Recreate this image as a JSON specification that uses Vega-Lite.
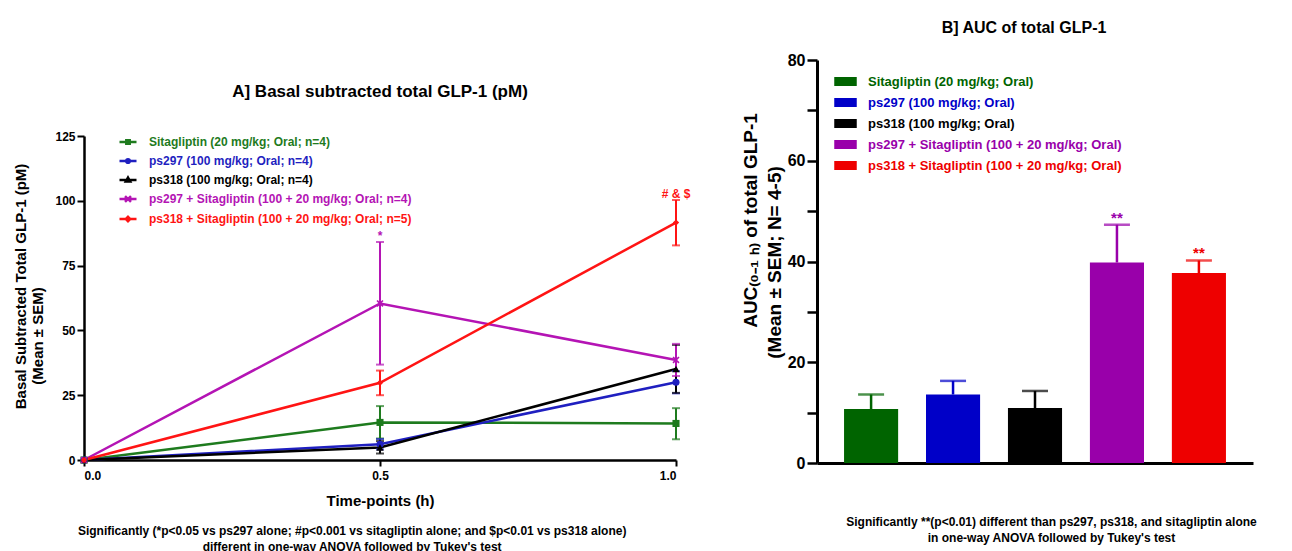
{
  "$schema": "https://vega.github.io/schema/vega-lite/v6.json",
  "background": "white",
  "padding": {"left": 13, "top": 20, "right": 0, "bottom": 0},
  "config": {
    "font": "Liberation Sans",
    "view": {"stroke": null},
    "axis": {"grid": false, "domainColor": "black", "domainWidth": 2.5, "tickColor": "black", "tickWidth": 2, "labelColor": "black", "labelFontWeight": "bold", "titleColor": "black", "titleFontWeight": "bold", "labelFont": "Liberation Sans", "titleFont": "Liberation Sans"},
    "title": {"font": "Liberation Sans", "fontWeight": "bold", "color": "black"},
    "legend": {"labelFont": "Liberation Sans", "labelLimit": 500}
  },
  "spacing": 50,
  "resolve": {"scale": {"x": "independent", "y": "independent", "color": "independent"}},
  "hconcat": [
    {
      "title": {"text": ["Significantly (*p<0.05 vs ps297 alone; #p<0.001 vs sitagliptin alone; and $p<0.01 vs ps318 alone)", "different in one-way ANOVA followed by Tukey's test"], "orient": "bottom", "fontSize": 12, "lineHeight": 16, "offset": 18, "anchor": "middle", "frame": "bounds"},
      "spacing": 6,
      "vconcat": [
        {
          "width": 592,
          "height": 64,
          "data": {"values": [{"heading": "A] Basal subtracted total GLP-1 (pM)"}]},
          "mark": {"type": "text", "fontSize": 17, "fontWeight": "bold", "color": "black", "align": "center", "baseline": "middle"},
          "encoding": {"text": {"field": "heading"}}
        },
        {
          "width": 592,
          "height": 324,
          "data": {"values": [
            {"time": 0, "group": "Sitagliptin (20 mg/kg; Oral; n=4)", "mean": 0, "lo": 0, "hi": 0},
            {"time": 0.5, "group": "Sitagliptin (20 mg/kg; Oral; n=4)", "mean": 14.5, "lo": 8.3, "hi": 20.8},
            {"time": 1, "group": "Sitagliptin (20 mg/kg; Oral; n=4)", "mean": 14.1, "lo": 8.0, "hi": 20.0},
            {"time": 0, "group": "ps297 (100 mg/kg; Oral; n=4)", "mean": 0, "lo": 0, "hi": 0},
            {"time": 0.5, "group": "ps297 (100 mg/kg; Oral; n=4)", "mean": 6.1, "lo": 4.1, "hi": 8.1},
            {"time": 1, "group": "ps297 (100 mg/kg; Oral; n=4)", "mean": 30.0, "lo": 25.7, "hi": 34.3},
            {"time": 0, "group": "ps318 (100 mg/kg; Oral; n=4)", "mean": 0, "lo": 0, "hi": 0},
            {"time": 0.5, "group": "ps318 (100 mg/kg; Oral; n=4)", "mean": 4.8, "lo": 2.5, "hi": 7.3},
            {"time": 1, "group": "ps318 (100 mg/kg; Oral; n=4)", "mean": 35.1, "lo": 25.9, "hi": 44.4},
            {"time": 0, "group": "ps297 + Sitagliptin (100 + 20 mg/kg; Oral; n=4)", "mean": 0, "lo": 0, "hi": 0},
            {"time": 0.5, "group": "ps297 + Sitagliptin (100 + 20 mg/kg; Oral; n=4)", "mean": 60.4, "lo": 36.8, "hi": 84.1},
            {"time": 1, "group": "ps297 + Sitagliptin (100 + 20 mg/kg; Oral; n=4)", "mean": 38.6, "lo": 32.4, "hi": 44.8},
            {"time": 0, "group": "ps318 + Sitagliptin (100 + 20 mg/kg; Oral; n=5)", "mean": 0, "lo": 0, "hi": 0},
            {"time": 0.5, "group": "ps318 + Sitagliptin (100 + 20 mg/kg; Oral; n=5)", "mean": 29.8, "lo": 25.0, "hi": 34.5},
            {"time": 1, "group": "ps318 + Sitagliptin (100 + 20 mg/kg; Oral; n=5)", "mean": 91.6, "lo": 82.8, "hi": 100.3}
          ]},
          "encoding": {
            "x": {"field": "time", "type": "quantitative", "scale": {"domain": [0, 1], "nice": false, "zero": false},
              "axis": {"values": [0, 0.5, 1], "format": ".1f", "title": "Time-points (h)", "tickSize": 6, "labelFontSize": 12, "labelPadding": 4, "titleFontSize": 15, "titlePadding": 12}},
            "color": {"field": "group", "type": "nominal",
              "scale": {"domain": ["Sitagliptin (20 mg/kg; Oral; n=4)", "ps297 (100 mg/kg; Oral; n=4)", "ps318 (100 mg/kg; Oral; n=4)", "ps297 + Sitagliptin (100 + 20 mg/kg; Oral; n=4)", "ps318 + Sitagliptin (100 + 20 mg/kg; Oral; n=5)"],
                "range": ["#1e7b1e", "#1f1fc0", "#000000", "#b414b4", "#ff1414"]},
              "legend": {"title": null, "orient": "none", "legendX": 34, "legendY": 72, "padding": 0,
                "symbolSize": 289, "symbolStrokeWidth": 2.5, "labelFontSize": 12, "labelFontWeight": "bold", "labelOffset": 11, "rowPadding": 2,
                "encode": {
                  "symbols": {"update": {
                    "shape": {"signal": "['M-1,0H1M-0.2,-0.2H0.2V0.2H-0.2Z', 'M-1,0H1M0.22,0A0.22,0.22 0 1,1 -0.22,0A0.22,0.22 0 1,1 0.22,0Z', 'M-1,0H1M0,-0.28L0.26,0.18L-0.26,0.18Z', 'M-1,0H1M-0.35,-0.35L0.35,0.35M-0.35,0.35L0.35,-0.35', 'M-1,0H1M0,-0.26L0.26,0L0,0.26L-0.26,0Z'][datum.index]"},
                    "fill": {"signal": "['#1e7b1e', '#1f1fc0', '#000000', '#b414b4', '#ff1414'][datum.index]"},
                    "stroke": {"signal": "['#1e7b1e', '#1f1fc0', '#000000', '#b414b4', '#ff1414'][datum.index]"},
                    "strokeWidth": {"value": 2.5},
                    "size": {"value": 289},
                    "opacity": {"value": 1}
                  }},
                  "labels": {"update": {"fill": {"signal": "['#1e7b1e', '#1f1fc0', '#000000', '#b414b4', '#ff1414'][datum.index]"}}}
                }
              }
            }
          },
          "layer": [
            {"mark": {"type": "line", "strokeWidth": 2.5},
              "encoding": {"y": {"field": "mean", "type": "quantitative", "scale": {"domain": [0, 125], "nice": false},
                "axis": {"values": [0, 25, 50, 75, 100, 125], "tickSize": 7, "labelFontSize": 12, "labelPadding": 2, "titleFontSize": 15, "titleLineHeight": 17, "titlePadding": 9, "titleY": 150,
                  "title": ["Basal  Subtracted Total GLP-1 (pM)", "(Mean ± SEM)\u2800\u2800\u2800\u2800\u2800\u2800\u2800\u2800\u2800"]}}}},
            {"transform": [{"filter": "datum.time > 0"}],
              "mark": {"type": "rule", "strokeWidth": 2},
              "encoding": {"y": {"field": "lo", "type": "quantitative"}, "y2": {"field": "hi"}}},
            {"transform": [{"filter": "datum.time > 0"}],
              "mark": {"type": "tick", "orient": "horizontal", "size": 8, "thickness": 2},
              "encoding": {"y": {"field": "lo", "type": "quantitative"}}},
            {"transform": [{"filter": "datum.time > 0"}],
              "mark": {"type": "tick", "orient": "horizontal", "size": 8, "thickness": 2},
              "encoding": {"y": {"field": "hi", "type": "quantitative"}}},
            {"transform": [{"filter": {"field": "group", "equal": "Sitagliptin (20 mg/kg; Oral; n=4)"}}],
              "mark": {"type": "point", "shape": "square", "filled": true, "size": 50, "opacity": 1},
              "encoding": {"y": {"field": "mean", "type": "quantitative"}}},
            {"transform": [{"filter": {"field": "group", "equal": "ps297 (100 mg/kg; Oral; n=4)"}}],
              "mark": {"type": "point", "shape": "circle", "filled": true, "size": 50, "opacity": 1},
              "encoding": {"y": {"field": "mean", "type": "quantitative"}}},
            {"transform": [{"filter": {"field": "group", "equal": "ps318 (100 mg/kg; Oral; n=4)"}}],
              "mark": {"type": "point", "shape": "triangle-up", "filled": true, "size": 55, "opacity": 1},
              "encoding": {"y": {"field": "mean", "type": "quantitative"}}},
            {"transform": [{"filter": {"field": "group", "equal": "ps297 + Sitagliptin (100 + 20 mg/kg; Oral; n=4)"}}],
              "mark": {"type": "point", "shape": "M0.57,-0.85L0.85,-0.57L0.28,0L0.85,0.57L0.57,0.85L0,0.28L-0.57,0.85L-0.85,0.57L-0.28,0L-0.85,-0.57L-0.57,-0.85L0,-0.28Z", "filled": true, "size": 70, "opacity": 1},
              "encoding": {"y": {"field": "mean", "type": "quantitative"}}},
            {"transform": [{"filter": {"field": "group", "equal": "ps318 + Sitagliptin (100 + 20 mg/kg; Oral; n=5)"}}],
              "mark": {"type": "point", "shape": "diamond", "filled": true, "size": 40, "opacity": 1},
              "encoding": {"y": {"field": "mean", "type": "quantitative"}}},
            {"data": {"values": [
                {"time": 0.5, "y": 84.1, "note": "*", "group": "ps297 + Sitagliptin (100 + 20 mg/kg; Oral; n=4)"},
                {"time": 1, "y": 100.3, "note": "# & $", "group": "ps318 + Sitagliptin (100 + 20 mg/kg; Oral; n=5)"}
              ]},
              "mark": {"type": "text", "baseline": "bottom", "dy": 1, "fontSize": 12, "fontWeight": "bold"},
              "encoding": {"y": {"field": "y", "type": "quantitative"}, "text": {"field": "note"}}}
          ]
        }
      ]
    },
    {
      "width": 436,
      "height": 403,
      "title": {"text": "B] AUC of total GLP-1", "fontSize": 16, "offset": 16, "anchor": "middle", "frame": "group", "dx": -11},
      "data": {"values": [
        {"treatment": "Sitagliptin (20 mg/kg; Oral)", "mean": 10.7, "hi": 13.6, "sig": ""},
        {"treatment": "ps297 (100 mg/kg; Oral)", "mean": 13.6, "hi": 16.3, "sig": ""},
        {"treatment": "ps318 (100 mg/kg; Oral)", "mean": 10.9, "hi": 14.3, "sig": ""},
        {"treatment": "ps297 + Sitagliptin (100 + 20 mg/kg; Oral)", "mean": 39.8, "hi": 47.3, "sig": "**"},
        {"treatment": "ps318 + Sitagliptin (100 + 20 mg/kg; Oral)", "mean": 37.7, "hi": 40.2, "sig": "**"}
      ]},
      "encoding": {
        "x": {"field": "treatment", "type": "nominal", "sort": null, "scale": {"paddingInner": 0.34, "paddingOuter": 0.33},
          "axis": {"labels": false, "ticks": false, "domainWidth": 3, "title": ["Significantly **(p<0.01) different than ps297, ps318, and sitagliptin alone", "in one-way ANOVA followed by Tukey's test"], "titleFontSize": 12, "titleLineHeight": 16, "titlePadding": 53, "titleX": 234}},
        "color": {"field": "treatment", "type": "nominal", "sort": null,
          "scale": {"domain": ["Sitagliptin (20 mg/kg; Oral)", "ps297 (100 mg/kg; Oral)", "ps318 (100 mg/kg; Oral)", "ps297 + Sitagliptin (100 + 20 mg/kg; Oral)", "ps318 + Sitagliptin (100 + 20 mg/kg; Oral)"],
            "range": ["#006400", "#0000c8", "#000000", "#9900aa", "#ee0000"]},
          "legend": {"title": null, "orient": "none", "legendX": 17, "legendY": 10, "padding": 0,
            "symbolType": "M-1,-0.36H1V0.36H-1Z", "symbolSize": 441, "labelFontSize": 13, "labelFontWeight": "bold", "labelOffset": 11, "rowPadding": 2,
            "encode": {
              "symbols": {"update": {"stroke": {"value": "transparent"}, "opacity": {"value": 1}}},
              "labels": {"update": {"fill": {"signal": "['#006400', '#0000c8', '#000000', '#9900aa', '#ee0000'][datum.index]"}}}
            }
          }
        }
      },
      "layer": [
        {"mark": {"type": "bar"},
          "encoding": {"y": {"field": "mean", "type": "quantitative", "scale": {"domain": [0, 80], "nice": false},
            "axis": {"values": [0, 10, 20, 30, 40, 50, 60, 70, 80], "labelExpr": "datum.value % 20 === 0 ? datum.label : ''", "tickSize": 10, "tickWidth": 2.5, "domainWidth": 3, "labelFontSize": 16, "labelPadding": 2, "titleFontSize": 19, "titleLineHeight": 24, "titlePadding": 3, "titleY": 160,
              "title": ["AUC₍₀₋₁ ₕ₎ of total GLP-1", "(Mean ± SEM; N= 4-5)\u2800\u2800\u2800\u2800\u2800\u2800"]}}}},
        {"mark": {"type": "rule", "strokeWidth": 2.5},
          "encoding": {"y": {"field": "mean", "type": "quantitative"}, "y2": {"field": "hi"}}},
        {"mark": {"type": "tick", "thickness": 2.5, "size": 26},
          "encoding": {"y": {"field": "hi", "type": "quantitative"}}},
        {"mark": {"type": "text", "baseline": "bottom", "dy": 1, "fontSize": 15, "fontWeight": "bold"},
          "encoding": {"y": {"field": "hi", "type": "quantitative"}, "text": {"field": "sig"}}}
      ]
    }
  ]
}
